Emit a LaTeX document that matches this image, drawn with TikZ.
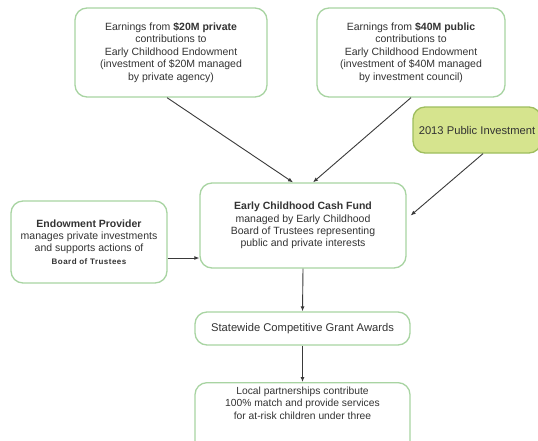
\documentclass[tikz,border=0pt]{standalone}
\usepackage{fontspec}
\setmainfont{Liberation Sans}
\newfontfamily\spacedsans[LetterSpace=6]{Liberation Sans}
\usetikzlibrary{arrows.meta,calc}
\definecolor{boxline}{HTML}{A8D4A2}
\definecolor{pubfill}{HTML}{D6E48E}
\definecolor{publine}{HTML}{9EBE5E}
\definecolor{txt}{HTML}{333333}
\definecolor{arr}{HTML}{3A3A3A}
\begin{document}
\begin{tikzpicture}[x=1pt,y=-1pt,
  box/.style={draw=boxline, line width=1.3pt, rounded corners=12pt, fill=white,
    align=center, text=txt, font=\fontsize{10.5}{12.4}\selectfont, inner sep=0pt},
  onebox/.style={box, font=\fontsize{11.2}{13}\selectfont},
  pubbox/.style={onebox, draw=publine, fill=pubfill},
  plain/.style={align=center, text=txt, font=\fontsize{10.3}{12.4}\selectfont, inner sep=0pt},
  flow/.style={draw=arr, line width=0.9pt, -{Latex[length=5pt,width=4pt]}}]
\useasboundingbox (0,0) rectangle (538,440);
\clip (0,0) rectangle (538,440);
\fill[white] (0,0) rectangle (538,440);

\node[box, minimum width=192pt, minimum height=89pt] (priv) at (171,52.5)
  {Earnings from \textbf{\$20M private}\\contributions to\\Early Childhood Endowment\\(investment of \$20M managed\\by private agency)};
\node[box, minimum width=188pt, minimum height=89pt] (pub) at (411,52.5)
  {Earnings from \textbf{\$40M public}\\contributions to\\Early Childhood Endowment\\(investment of \$40M managed\\by investment council)};
\node[pubbox, minimum width=128pt, minimum height=46pt] (inv) at (477,130)
  {2013 Public Investment};
\node[box, minimum width=206pt, minimum height=85pt] (cash) at (303,225.5)
  {\textbf{Early Childhood Cash Fund}\\managed by Early Childhood\\Board of Trustees representing\\public and private interests};
\node[box, minimum width=156pt, minimum height=82pt] (endow) at (89,242)
  {\textbf{Endowment Provider}\\manages private investments\\and supports actions of\\{\spacedsans\fontsize{8}{12.4}\selectfont\bfseries Board of Trustees}};
\node[onebox, minimum width=215pt, minimum height=33pt] (grant) at (302.5,328.5)
  {Statewide Competitive Grant Awards};
\node[box, anchor=north, minimum width=215pt, minimum height=72pt] (local) at (302.5,382) {};
\node[plain] (localtext) at (302.5,403)
  {Local partnerships contribute\\100\% match and provide services\\for at-risk children under three};

\draw[flow] ([xshift=-4pt]priv.south) -- ([xshift=-10pt]cash.north);
\draw[flow] (pub.south) -- ([xshift=10pt]cash.north);
\draw[flow] ([xshift=6pt]inv.south) -- ([xshift=4pt,yshift=10pt]cash.east);
\draw[flow] ([yshift=-16pt]endow.east) -- ([yshift=-16pt]endow.east -| cash.west);
\draw[flow] (cash.south) -- (grant.north);
\draw[flow] (grant.south) -- (local.north);
\end{tikzpicture}
\end{document}
